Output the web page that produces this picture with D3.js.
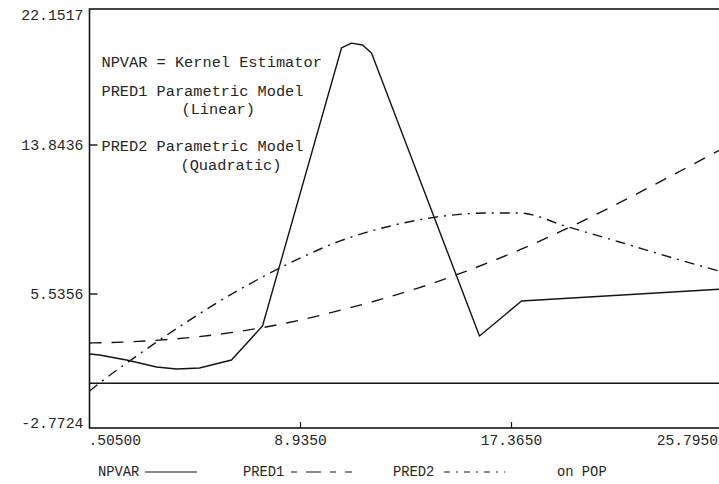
<!DOCTYPE html>
<html>
<head>
<meta charset="utf-8">
<script src="https://cdn.jsdelivr.net/npm/d3@7"></script>
<style>
  html, body { margin: 0; padding: 0; background: #fff; }
  svg text { font-family: "Liberation Mono", "DejaVu Sans Mono", monospace; fill: #262626; }
</style>
</head>
<body>
<svg id="chart" width="719" height="484"></svg>
<script>
// Kernel estimator (NPVAR) evaluated at the observed POP values
const popKernel = [0.505, 0.905, 1.983, 2.503, 3.182, 3.981, 4.899, 6.178, 7.417, 10.573, 10.973, 11.412, 11.771, 16.086, 17.764, 25.795];
const npvar     = [1.816, 1.754, 1.444, 1.258, 1.010, 0.886, 0.948, 1.444, 3.552, 19.77, 20.07, 19.95, 19.46, 2.932, 5.10, 5.81];

// Parametric model 1 (PRED1)
const popLinear = [0.505, 2.223, 4.380, 6.218, 7.417, 8.376, 10.893, 11.812, 13.689, 15.567, 17.685, 19.562, 21.680, 23.557, 25.795];
const pred1     = [2.498, 2.578, 2.814, 3.155, 3.453, 3.738, 4.674, 5.058, 5.892, 6.813, 7.995, 9.177, 10.627, 11.987, 13.643];

// Parametric model 2 (PRED2)
const popQuad = [0.505, 1.184, 2.383, 3.022, 4.380, 6.218, 7.537, 8.895, 10.493, 11.492, 12.491, 14.209, 16.486, 17.685, 19.562, 21.680, 23.957, 25.795];
const pred2   = [-0.478, 0.347, 1.686, 2.380, 3.794, 5.558, 6.573, 7.521, 8.480, 8.940, 9.316, 9.796, 10.052, 10.052, 9.300, 8.435, 7.487, 6.762];

// Axis ticks
const xTicks = [0.505, 8.935, 17.365, 25.795];
const xTickLabels = [".50500", "8.9350", "17.3650", "25.7950"];
const yTicks = [-2.7724, 5.5356, 13.8436, 22.1517];
const yTickLabels = ["-2.7724", "5.5356", "13.8436", "22.1517"];

// Annotation block and bottom legend
const notes = [
  { text: "NPVAR = Kernel Estimator", dx: 0, row: 0 },
  { text: "PRED1 Parametric Model",   dx: 0, row: 1 },
  { text: "(Linear)",                 dx: 80, row: 2 },
  { text: "PRED2 Parametric Model",   dx: 0, row: 3 },
  { text: "(Quadratic)",              dx: 79, row: 4 }
];
const legendNames = ["NPVAR", "PRED1", "PRED2"];

const svg = d3.select("#chart");
const W = 719, H = 484;

const x = d3.scaleLinear().domain([xTicks[0], xTicks[3]]).range([89.5, 722.5]);
// tick rows of the plotting device are not exactly equidistant
const y = d3.scaleLinear().domain(yTicks).range([428, 294, 145, 9]);

const plotLeft = x.range()[0], plotRight = x.range()[1];
const plotTop = y(yTicks[3]), plotBottom = y(yTicks[0]);

const ink = "#141414";

// plot frame
svg.append("rect")
  .attr("x", plotLeft).attr("y", plotTop)
  .attr("width", plotRight - plotLeft).attr("height", plotBottom - plotTop)
  .attr("fill", "none").attr("stroke", ink).attr("stroke-width", 1.6);

// reference line at zero
svg.append("line")
  .attr("x1", plotLeft).attr("x2", plotRight)
  .attr("y1", y(0)).attr("y2", y(0))
  .attr("stroke", ink).attr("stroke-width", 1.4);

// inner ticks
svg.selectAll("line.ytick").data(yTicks.slice(1, 3)).join("line")
  .attr("class", "ytick")
  .attr("x1", plotLeft).attr("x2", plotLeft + 8)
  .attr("y1", d => y(d)).attr("y2", d => y(d))
  .attr("stroke", ink).attr("stroke-width", 1.4);
svg.selectAll("line.xtick").data(xTicks.slice(1, 3)).join("line")
  .attr("class", "xtick")
  .attr("x1", d => x(d)).attr("x2", d => x(d))
  .attr("y1", plotBottom).attr("y2", plotBottom - 6)
  .attr("stroke", ink).attr("stroke-width", 1.2);

// y tick labels
svg.selectAll("text.ylab").data(yTicks).join("text")
  .attr("class", "ylab")
  .attr("x", plotLeft - 6)
  .attr("y", d => Math.min(Math.max(y(d), plotTop + 6), plotBottom - 5))
  .attr("dy", "0.35em")
  .attr("text-anchor", "end")
  .style("font-size", "14.8px")
  .text((d, i) => yTickLabels[i]);

// x tick labels
svg.selectAll("text.xlab").data(xTicks).join("text")
  .attr("class", "xlab")
  .attr("x", (d, i) => i === 0 ? x(d) - 1 : (i === 3 ? Math.min(x(d), W - 1) : x(d)))
  .attr("y", plotBottom + 12)
  .attr("dy", "0.35em")
  .attr("text-anchor", (d, i) => i === 0 ? "start" : (i === 3 ? "end" : "middle"))
  .style("font-size", "14.6px")
  .text((d, i) => xTickLabels[i]);

// annotation block inside the plot
const rowY = [61.7, 90.7, 108.3, 146, 164.3];
svg.selectAll("text.note").data(notes).join("text")
  .attr("class", "note")
  .attr("x", d => 101.5 + d.dx)
  .attr("y", d => rowY[d.row])
  .attr("dy", "0.35em")
  .style("font-size", "15.3px")
  .text(d => d.text);

// curves: the kernel estimate is joined point to point, the fitted models are smooth
const series = [
  { pop: popKernel, val: npvar, dash: null, curve: d3.curveLinear },
  { pop: popLinear, val: pred1, dash: "12,10", curve: d3.curveMonotoneX },
  { pop: popQuad,   val: pred2, dash: "10,6,2,6", curve: d3.curveMonotoneX }
];
svg.append("clipPath").attr("id", "plotClip")
  .append("rect").attr("x", plotLeft).attr("y", plotTop)
  .attr("width", plotRight - plotLeft).attr("height", plotBottom - plotTop);
svg.append("g").attr("clip-path", "url(#plotClip)")
  .selectAll("path").data(series).join("path")
  .attr("d", s => d3.line().curve(s.curve).x(d => x(d[0])).y(d => y(d[1])) (s.pop.map((p, i) => [p, s.val[i]])))
  .attr("fill", "none")
  .attr("stroke", ink)
  .attr("stroke-width", 1.4)
  .attr("stroke-linejoin", "round")
  .attr("stroke-dasharray", s => s.dash);

// bottom legend
const legY = 471;
const legendItems = [
  { name: legendNames[0], tx: 98,  x1: 145, x2: 197, dash: null },
  { name: legendNames[1], tx: 243, x1: 291, x2: 352, dash: "6,9,15,9" },
  { name: legendNames[2], tx: 393, x1: 444, x2: 505, dash: "6,6,2,6" }
];
const leg = svg.append("g");
leg.selectAll("text.lg").data(legendItems).join("text")
  .attr("class", "lg")
  .attr("x", d => d.tx).attr("y", legY)
  .attr("dy", "0.35em")
  .style("font-size", "13.8px")
  .text(d => d.name);
leg.selectAll("line.lg").data(legendItems).join("line")
  .attr("class", "lg")
  .attr("x1", d => d.x1).attr("x2", d => d.x2)
  .attr("y1", legY + 1).attr("y2", legY + 1)
  .attr("stroke", ink).attr("stroke-width", 1.2)
  .attr("stroke-dasharray", d => d.dash);
leg.append("text")
  .attr("x", 557).attr("y", legY).attr("dy", "0.35em")
  .style("font-size", "13.8px")
  .text("on POP");
</script>
</body>
</html>
